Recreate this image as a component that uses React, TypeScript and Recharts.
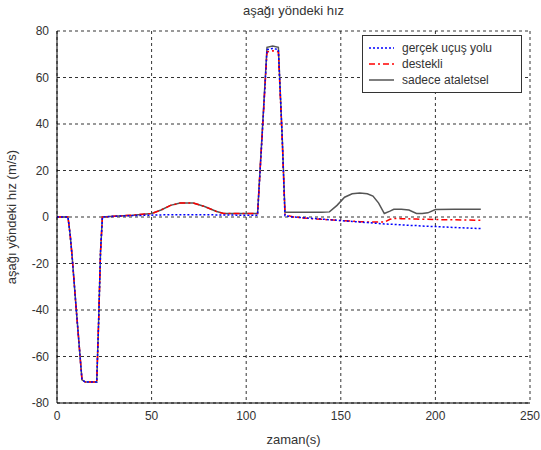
import React from 'react';
import { LineChart, Line, XAxis, YAxis, CartesianGrid } from 'recharts';

// zaman ekseni (s)
const zaman = [0, 5.8, 7, 8, 10, 12, 13.2, 15, 18, 21, 22, 23, 24, 30, 40, 50, 55, 60, 65, 72, 78, 84, 88, 95, 100, 106, 108.5, 111, 114, 117, 119, 120.5, 125, 130, 135, 140, 144, 148, 152, 156, 160, 164, 167, 170, 173, 176, 178, 182, 186, 190, 193, 196, 200, 210, 218, 224];

const gercekUcusYolu = [0, 0, -8, -17, -38, -58, -70, -71, -71, -71, -45, -15, 0, 0.3, 0.6, 0.8, 0.9, 1, 1, 1, 1, 0.9, 0.9, 0.8, 0.8, 0.8, 36, 72, 72.5, 72, 35, 0.5, 0, -0.3, -0.6, -0.9, -1.2, -1.4, -1.7, -1.9, -2.2, -2.4, -2.6, -2.8, -3, -3.1, -3.2, -3.4, -3.6, -3.7, -3.9, -4, -4.1, -4.5, -4.8, -5];

const destekli = [0, 0, -8, -17, -38, -58, -70, -71, -71, -71, -45, -15, 0, 0.3, 0.8, 1.5, 3, 5, 6, 6, 4.5, 2.5, 1.5, 1.5, 1.5, 1.5, 36, 71, 71.5, 71, 34, 1, 0, -0.4, -0.7, -1, -1.2, -1.4, -1.6, -1.8, -2, -2.1, -2.2, -2.2, -2.2, -1, -0.6, -0.7, -0.8, -0.9, -1, -1, -1.1, -1.2, -1.3, -1.4];

const sadeceAtaletsel = [0, 0, -8, -17, -38, -58, -70, -71, -71, -71, -45, -15, 0, 0.3, 0.8, 1.5, 3, 5, 6, 6, 4.5, 2.5, 1.5, 1.5, 1.5, 1.5, 37, 73, 73.5, 73, 35, 2, 2, 2, 2, 2, 2.2, 5, 8.5, 10, 10.3, 10, 9, 6, 1.5, 2.5, 3.3, 3.3, 3, 1.5, 1.5, 1.8, 3.2, 3.3, 3.3, 3.3];

const xTicks = [0, 50, 100, 150, 200, 250];
const yTicks = [-80, -60, -40, -20, 0, 20, 40, 60, 80];

const data = zaman.map((t, i) => ({
    t,
    gercek: gercekUcusYolu[i],
    destekli: destekli[i],
    ataletsel: sadeceAtaletsel[i],
}));

const FONT = '"Liberation Sans", Arial, sans-serif';
const TEXT = '#333';

const legendItems = [
    { name: 'gerçek uçuş yolu', color: '#0000ff', dash: '2 2' },
    { name: 'destekli', color: '#ff0000', dash: '6 3 2 3' },
    { name: 'sadece ataletsel', color: '#555555', dash: undefined },
];

// legend kutusu grafiğin üstüne bindiriliyor
const LegendBox = () => (
    <svg width={160} height={58} style={{ display: 'block' }}>
        <rect x={0.5} y={0.5} width={159} height={57} fill="#fff" stroke="#333" />
        {legendItems.map((it, i) => (
            <g key={it.name}>
                <line x1={7} x2={32} y1={13 + i * 16} y2={13 + i * 16} stroke={it.color} strokeWidth={1.5} strokeDasharray={it.dash} />
                <text x={40} y={17 + i * 16} fontSize={12} fill={TEXT} fontFamily={FONT}>{it.name}</text>
            </g>
        ))}
    </svg>
);

export default function App() {
    return (
        <div style={{ position: 'absolute', left: 0, top: 0, width: 541, height: 450, background: '#fff', fontFamily: FONT }}>
            <div style={{ position: 'absolute', left: 57, width: 473, top: 3, textAlign: 'center', fontSize: 13, color: TEXT }}>
                aşağı yöndeki hız
            </div>
            <LineChart width={541} height={450} data={data} margin={{ top: 31, right: 11, left: 0, bottom: 0 }}>
                <CartesianGrid stroke="#000" strokeDasharray="3 3" strokeOpacity={0.8} />
                <XAxis
                    dataKey="t"
                    type="number"
                    domain={[0, 250]}
                    ticks={xTicks}
                    height={47}
                    stroke="#000"
                    tickLine={false}
                    tick={{ fontSize: 12, fill: TEXT, fontFamily: FONT }}
                    label={{ value: 'zaman(s)', position: 'insideBottom', offset: 6, fontSize: 13, fill: TEXT, fontFamily: FONT }}
                />
                <YAxis
                    type="number"
                    domain={[-80, 80]}
                    ticks={yTicks}
                    width={57}
                    stroke="#000"
                    tickLine={false}
                    tick={{ fontSize: 12, fill: TEXT, fontFamily: FONT }}
                    label={{
                        content: () => (
                            <text x={16} y={217} transform="rotate(-90 16 217)" textAnchor="middle" fontSize={13} fill={TEXT} fontFamily={FONT}>
                                aşağı yöndeki hız (m/s)
                            </text>
                        ),
                    }}
                />
                <Line type="linear" dataKey="ataletsel" stroke="#555555" strokeWidth={1.5} dot={false} isAnimationActive={false} />
                <Line type="linear" dataKey="destekli" stroke="#ff0000" strokeWidth={1.5} strokeDasharray="6 3 2 3" dot={false} isAnimationActive={false} />
                <Line type="linear" dataKey="gercek" stroke="#0000ff" strokeWidth={1.5} strokeDasharray="2 2" dot={false} isAnimationActive={false} />
            </LineChart>
            <div style={{ position: 'absolute', left: 362, top: 35 }}>
                <LegendBox />
            </div>
        </div>
    );
}
